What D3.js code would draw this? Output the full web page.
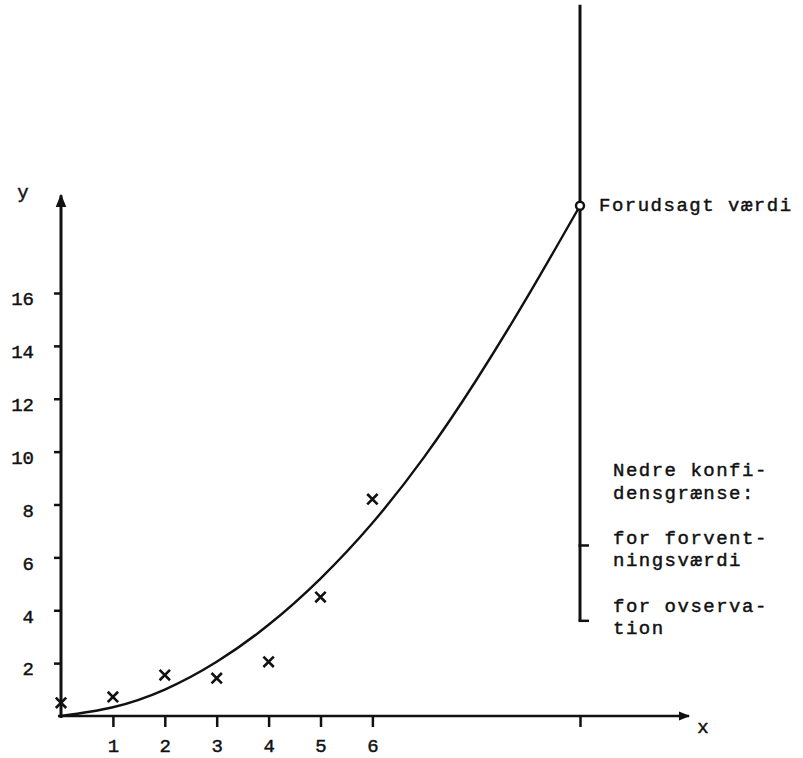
<!DOCTYPE html>
<html>
<head>
<meta charset="utf-8">
<script src="https://cdn.jsdelivr.net/npm/d3@7"></script>
<style>
  body { margin: 0; background: #fff; }
  text { font-family: "Liberation Mono", "DejaVu Sans Mono", monospace; fill: #111; stroke: #111; stroke-width: 0.45px; }
  .axis path, .axis line { stroke: #111; }
</style>
</head>
<body>
<div id="chart"></div>
<script>
// observations (x marks)
const obsX = [0, 1, 2, 3, 4, 5, 6];
const obsY = [0.5, 0.72, 1.55, 1.43, 2.05, 4.5, 8.2];

// fitted curve
const curveX = [0, 1, 2, 3, 4, 5, 6, 7, 8, 9, 10];
const curveY = [0, 0.33, 1.0, 2.05, 3.45, 5.2, 7.3, 9.8, 12.7, 15.9, 19.3];

// prediction at x = 10 and its lower confidence bounds
const predX = 10;
const predY = 19.3;
const lowerMean = 6.45;
const lowerObs = 3.6;
const upperTop = 26.9;

const xTicks = [1, 2, 3, 4, 5, 6, 10];
const yTicks = [2, 4, 6, 8, 10, 12, 14, 16];

const noteLines = [
  'Nedre konfi-', 'densgrænse:', '',
  'for forvent-', 'ningsværdi', '',
  'for ovserva-', 'tion'
];

const width = 803, height = 758;

const x = d3.scaleLinear().domain([0, 10]).range([61, 580]);
const y = d3.scaleLinear().domain([0, 16]).range([716, 293]);

const svg = d3.select('#chart').append('svg')
    .attr('width', width)
    .attr('height', height);

svg.append('rect').attr('width', width).attr('height', height).attr('fill', '#fff');

const defs = svg.append('defs');
defs.append('marker')
    .attr('id', 'arrow')
    .attr('viewBox', '0 0 10 10')
    .attr('refX', 9).attr('refY', 5)
    .attr('markerWidth', 4.5).attr('markerHeight', 4.5)
    .attr('markerUnits', 'strokeWidth')
    .attr('orient', 'auto')
  .append('path')
    .attr('d', 'M0,1 L10,5 L0,9 Z')
    .attr('fill', '#111');

// x axis
const xAxis = d3.axisBottom(x)
    .tickValues(xTicks)
    .tickSize(11)
    .tickPadding(12)
    .tickFormat(d => d === 10 ? '' : d);

const gx = svg.append('g')
    .attr('class', 'axis')
    .attr('transform', `translate(0,${y(0)})`)
    .call(xAxis);
gx.select('.domain').remove();
gx.selectAll('line').attr('stroke-width', 2.5);
gx.selectAll('text').style('font-size', '19px');

svg.append('line')
    .attr('x1', x(0) - 3).attr('x2', x(12.1))
    .attr('y1', y(0)).attr('y2', y(0))
    .attr('stroke', '#111').attr('stroke-width', 2.5)
    .attr('marker-end', 'url(#arrow)');

// y axis
const yAxis = d3.axisLeft(y)
    .tickValues(yTicks)
    .tickSize(7)
    .tickPadding(20);

const gy = svg.append('g')
    .attr('class', 'axis')
    .attr('transform', `translate(${x(0)},0)`)
    .call(yAxis);
gy.select('.domain').remove();
gy.selectAll('line').attr('stroke-width', 2.5);
gy.selectAll('text').style('font-size', '19px').attr('dy', '0.62em');

svg.append('line')
    .attr('x1', x(0)).attr('x2', x(0))
    .attr('y1', y(0) + 2).attr('y2', y(19.7))
    .attr('stroke', '#111').attr('stroke-width', 3)
    .attr('marker-end', 'url(#arrow)');

svg.append('text').attr('x', 23).attr('y', 198)
    .attr('text-anchor', 'middle').style('font-size', '19px').text('y');
svg.append('text').attr('x', 703).attr('y', 733)
    .attr('text-anchor', 'middle').style('font-size', '19px').text('x');

// fitted curve
const curvePts = curveX.map((d, i) => [d, curveY[i]]);
svg.append('path')
    .datum(curvePts)
    .attr('fill', 'none')
    .attr('stroke', '#111')
    .attr('stroke-width', 2.4)
    .attr('d', d3.line().x(d => x(d[0])).y(d => y(d[1])).curve(d3.curveNatural));

// observations
const obs = obsX.map((d, i) => [d, obsY[i]]);
svg.append('g').selectAll('path')
    .data(obs)
    .join('path')
    .attr('transform', d => `translate(${x(d[0])},${y(d[1])})`)
    .attr('d', d3.symbol(d3.symbolX, 72))
    .attr('fill', 'none')
    .attr('stroke', '#111')
    .attr('stroke-width', 2.6);

// prediction interval line
svg.append('line')
    .attr('x1', x(predX)).attr('x2', x(predX))
    .attr('y1', y(upperTop)).attr('y2', y(lowerObs))
    .attr('stroke', '#111').attr('stroke-width', 3);

[lowerMean, lowerObs].forEach(v => {
  svg.append('line')
      .attr('x1', x(predX) - 1.5).attr('x2', x(predX) + 9)
      .attr('y1', y(v)).attr('y2', y(v))
      .attr('stroke', '#111').attr('stroke-width', 2.5);
});

svg.append('circle')
    .attr('cx', x(predX)).attr('cy', y(predY))
    .attr('r', 4)
    .attr('fill', '#fff')
    .attr('stroke', '#111')
    .attr('stroke-width', 2.4);

svg.append('text')
    .attr('x', 599).attr('y', 211)
    .style('font-size', '19px')
    .style('letter-spacing', '1.5px')
    .text('Forudsagt værdi');

svg.append('g').selectAll('text')
    .data(noteLines)
    .join('text')
    .attr('x', 613)
    .attr('y', (d, i) => 476 + i * 22.6)
    .style('font-size', '19px')
    .style('letter-spacing', '1.5px')
    .text(d => d);
</script>
</body>
</html>
